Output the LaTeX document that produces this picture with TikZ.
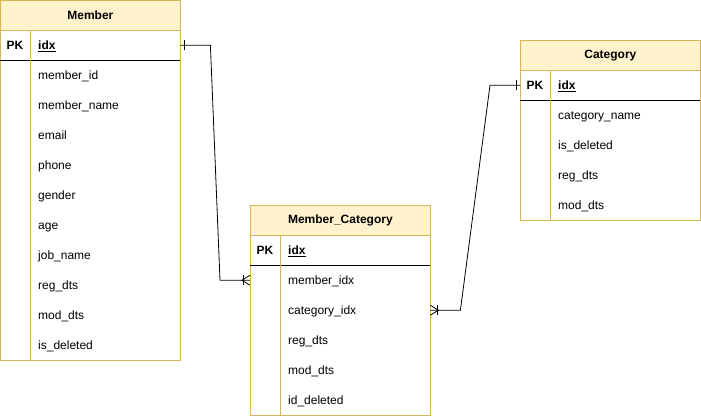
\documentclass[tikz,border=0pt]{standalone}
\usepackage{fontspec}
\setmainfont{Liberation Sans}
\usetikzlibrary{calc}
\definecolor{hdrfill}{HTML}{FFF2CC}
\definecolor{hdrline}{HTML}{D6B656}
\begin{document}
\begin{tikzpicture}[x=1pt,y=-1pt,
  font=\fontsize{12}{14}\selectfont,
  hdr/.style={draw=hdrline,fill=hdrfill,line width=0.8pt,minimum width=180pt,minimum height=30pt,anchor=north west,inner sep=0pt,font=\fontsize{12}{14}\selectfont\bfseries},
  tbody/.style={draw=hdrline,line width=0.8pt,minimum width=180pt,anchor=north west,inner sep=0pt},
  rowbox/.style={minimum width=180pt,minimum height=30pt,anchor=north west,inner sep=0pt},
  fld/.style={anchor=base west,inner sep=0pt,yshift=-4.5pt},
  pk/.style={anchor=base,inner sep=0pt,yshift=-4.5pt,font=\fontsize{12}{14}\selectfont\bfseries},
  rel/.style={draw=black,line width=0.8pt}
]
\useasboundingbox (0,0) rectangle (701,416);
% ---------------- Member
\node[tbody,minimum height=330pt] (m-body) at (0,30) {};
\node[hdr] (m-h) at (0,0) {Member};
\node[rowbox] (m-pkrow) at (0,30) {};
\draw[line width=0.8pt] (0,60) -- (180,60);
\draw[draw=hdrline,line width=0.8pt] (30,30) -- (30,360);
\node[pk] (m-pk) at (15,45) {PK};
\node[fld] (m-idx) at (38,45) {\bfseries\underline{idx}};
\foreach \t [count=\i] in {member\_id,member\_name,email,phone,gender,age,job\_name,reg\_dts,mod\_dts,is\_deleted}
  \node[fld] (m-f\i) at (38,{45+30*\i}) {\t};
% ---------------- Member_Category
\node[tbody,minimum height=180pt] (mc-body) at (250,235) {};
\node[hdr] (mc-h) at (250,205) {Member\_Category};
\node[rowbox] (mc-pkrow) at (250,235) {};
\node[rowbox] (mc-r1) at (250,265) {};
\node[rowbox] (mc-r2) at (250,295) {};
\draw[line width=0.8pt] (250,265) -- (430,265);
\draw[draw=hdrline,line width=0.8pt] (280,235) -- (280,415);
\node[pk] (mc-pk) at (265,250) {PK};
\node[fld] (mc-idx) at (288,250) {\bfseries\underline{idx}};
\foreach \t [count=\i] in {member\_idx,category\_idx,reg\_dts,mod\_dts,id\_deleted}
  \node[fld] (mc-f\i) at (288,{250+30*\i}) {\t};
% ---------------- Category
\node[tbody,minimum height=150pt] (c-body) at (520,70) {};
\node[hdr] (c-h) at (520,40) {Category};
\node[rowbox] (c-pkrow) at (520,70) {};
\draw[line width=0.8pt] (520,100) -- (700,100);
\draw[draw=hdrline,line width=0.8pt] (550,70) -- (550,220);
\node[pk] (c-pk) at (535,85) {PK};
\node[fld] (c-idx) at (558,85) {\bfseries\underline{idx}};
\foreach \t [count=\i] in {category\_name,is\_deleted,reg\_dts,mod\_dts}
  \node[fld] (c-f\i) at (558,{85+30*\i}) {\t};
% ---------------- relations
\draw[rel] (m-pkrow.east) -- ++(30,0) -- ($(mc-r1.west)+(-30,0)$) -- (mc-r1.west);
\draw[rel] ($(m-pkrow.east)+(4,-5)$) -- ++(0,10);
\draw[rel] ($(mc-r1.west)+(-7,-5)$) -- ++(0,10);
\draw[rel] ($(mc-r1.west)+(0,-5)$) -- ($(mc-r1.west)+(-8,0)$) -- ($(mc-r1.west)+(0,5)$);
\draw[rel] (c-pkrow.west) -- ++(-30,0) -- ($(mc-r2.east)+(30,0)$) -- (mc-r2.east);
\draw[rel] ($(c-pkrow.west)+(-4,-5)$) -- ++(0,10);
\draw[rel] ($(mc-r2.east)+(7,-5)$) -- ++(0,10);
\draw[rel] ($(mc-r2.east)+(0,-5)$) -- ($(mc-r2.east)+(8,0)$) -- ($(mc-r2.east)+(0,5)$);
\end{tikzpicture}
\end{document}
